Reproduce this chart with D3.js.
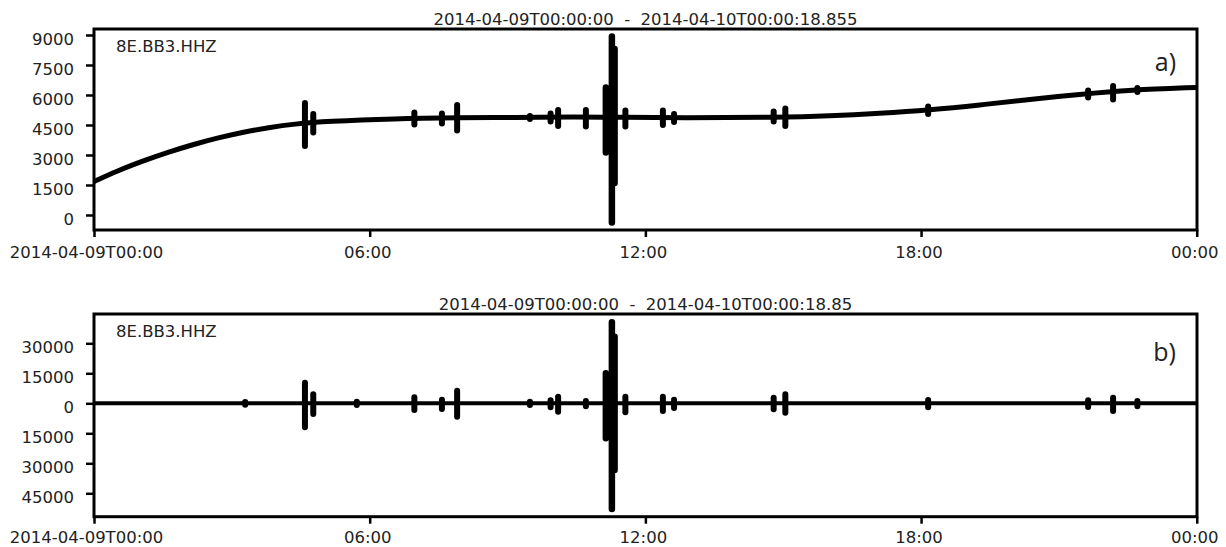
<!DOCTYPE html>
<html>
<head>
<meta charset="utf-8">
<script src="https://cdn.jsdelivr.net/npm/d3@7"></script>
<style>
  body { margin: 0; background: #fff; }
  text { font-family: "DejaVu Sans", sans-serif; fill: #222; }
</style>
</head>
<body>
<div id="plot"></div>
<script>
// Trace window
const startTime = Date.UTC(2014, 3, 9, 0, 0, 0);
const endTime = Date.UTC(2014, 3, 10, 0, 0, 18, 855);
const stationLabel = "8E.BB3.HHZ";
const titles = [
    "2014-04-09T00:00:00  -  2014-04-10T00:00:18.855",
    "2014-04-09T00:00:00  -  2014-04-10T00:00:18.85"
];
const panelTags = ["a)", "b)"];

// x ticks (hours from start) and their labels
const xTickHours = [0, 6, 12, 18, 24];
const xTickLabels = ["2014-04-09T00:00", "06:00", "12:00", "18:00", "00:00"];

// y ticks
const yTicksA = [0, 1500, 3000, 4500, 6000, 7500, 9000];
const yTicksB = [-45000, -30000, -15000, 0, 15000, 30000];

// raw trace (a): slow drift
const driftHours = [0, 0.5, 1.09, 1.6, 2.18, 2.7, 3.26, 3.8, 4.35, 5.07, 6.53, 8.0, 9.14,
    10.5, 11.5, 12.75, 14.93, 16.0, 17.1, 18.19, 19.28, 20.37, 21.45, 22.54, 24.0];
const driftValues = [1670, 2200, 2720, 3130, 3540, 3860, 4150, 4370, 4550, 4690, 4820, 4860, 4880,
    4900, 4890, 4860, 4880, 4950, 5080, 5250, 5500, 5780, 6030, 6250, 6380];

// filtered trace (b) sits on zero
const baseHoursB = [0, 24.0];
const baseValuesB = [0, 0];

// events: time (hours) and min/max excursions in each panel (null = not visible)
const eventHours = [3.29, 4.591, 4.772, 5.72, 6.972, 7.572, 7.903, 9.487, 9.937, 10.101, 10.705,
    11.140, 11.271, 11.330, 11.565, 12.381, 12.624, 14.792, 15.046, 18.154, 21.636, 22.179, 22.708];
const eventMaxA = [null, 5600, 5050, null, 5130, 5080, 5500, 4950, 5080, 5250, 5250,
    6370, 8920, 8300, 5220, 5220, 5050, 5170, 5330, 5420, 6220, 6450, 6350];
const eventMinA = [null, 3450, 4120, null, 4530, 4580, 4220, 4800, 4670, 4450, 4420,
    3120, -380, 1600, 4420, 4500, 4650, 4670, 4450, 5050, 5880, 5780, 6150];
const eventMaxB = [700, 10300, 4500, 800, 3000, 1800, 6300, 800, 1500, 3300, 1200,
    15000, 40500, 33300, 3300, 3300, 1800, 2800, 4500, 1700, 1500, 2800, 1200];
const eventMinB = [-700, -12000, -5350, -800, -3350, -2800, -6700, -900, -2000, -4200, -1500,
    -17500, -52800, -33300, -4500, -3800, -2300, -3000, -4700, -2000, -1800, -3800, -1500];

const atHour = h => new Date(startTime + h * 3600e3);

const svg = d3.select("#plot")
    .append("svg")
    .attr("width", 1226)
    .attr("height", 547);

const left = 94, right = 1197;

const x = d3.scaleUtc()
    .domain([new Date(startTime), new Date(endTime)])
    .range([left, right]);

const panels = [
    {
        top: 29, bottom: 230, domain: [-750, 9300], ticks: yTicksA,
        lineHours: driftHours, lineValues: driftValues,
        evMax: eventMaxA, evMin: eventMinA, lineWidth: 5,
        tagY: 71, xLabelPad: 9
    },
    {
        top: 314, bottom: 516.7, domain: [-56700, 44650], ticks: yTicksB,
        lineHours: baseHoursB, lineValues: baseValuesB,
        evMax: eventMaxB, evMin: eventMinB, lineWidth: 4,
        tagY: 361, xLabelPad: 8
    }
];

panels.forEach((p, i) => {
    const y = d3.scaleLinear().domain(p.domain).range([p.bottom, p.top]);
    const g = svg.append("g");

    // y axis
    const yAxis = g.append("g")
        .attr("transform", `translate(${left},0)`)
        .call(d3.axisLeft(y).tickValues(p.ticks).tickSize(8).tickPadding(12)
            .tickFormat(d => String(Math.abs(d))));
    yAxis.select(".domain").remove();
    yAxis.selectAll("line").attr("stroke", "#000").attr("stroke-width", 2.5);
    yAxis.selectAll("text").attr("font-size", "16.5px").attr("dy", "9px")
        .attr("font-family", "DejaVu Sans").attr("fill", "#222");

    // x axis
    const xAxis = g.append("g")
        .attr("transform", `translate(0,${p.bottom})`)
        .call(d3.axisBottom(x).tickValues(xTickHours.map(atHour)).tickSize(7)
            .tickPadding(p.xLabelPad).tickFormat((d, k) => xTickLabels[k]));
    xAxis.select(".domain").remove();
    xAxis.selectAll("line").attr("stroke", "#000").attr("stroke-width", 2.5);
    xAxis.selectAll("text").attr("font-size", "16.5px")
        .attr("font-family", "DejaVu Sans").attr("fill", "#222")
        .attr("dx", (d, k) => k === 0 ? -8 : -2.5);

    // trace
    const line = d3.line()
        .x((d, k) => x(atHour(p.lineHours[k])))
        .y(d => y(d))
        .curve(d3.curveBasis);
    g.append("path")
        .attr("d", line(p.lineValues))
        .attr("fill", "none")
        .attr("stroke", "#000")
        .attr("stroke-width", p.lineWidth)
        .attr("stroke-linejoin", "round");

    const events = eventHours
        .map((h, k) => ({ h, max: p.evMax[k], min: p.evMin[k] }))
        .filter(d => d.max !== null);
    const span = p.domain[1] - p.domain[0];

    g.selectAll("line.event")
        .data(events)
        .join("line")
        .attr("class", "event")
        .attr("x1", d => x(atHour(d.h)))
        .attr("x2", d => x(atHour(d.h)))
        .attr("y1", d => y(d.max))
        .attr("y2", d => y(d.min))
        .attr("stroke", "#000")
        .attr("stroke-width", d => (d.max - d.min) > span * 0.3 ? 6.5 : 6)
        .attr("stroke-linecap", "round");

    // frame
    g.append("rect")
        .attr("x", left).attr("y", p.top)
        .attr("width", right - left).attr("height", p.bottom - p.top)
        .attr("fill", "none").attr("stroke", "#000").attr("stroke-width", 3);

    // texts
    g.append("text")
        .attr("x", (left + right) / 2).attr("y", p.top - 4)
        .attr("text-anchor", "middle")
        .attr("font-size", "16.5px")
        .style("white-space", "pre")
        .text(titles[i]);

    g.append("text")
        .attr("x", 116).attr("y", p.top + 22.5)
        .attr("font-size", "16.5px")
        .text(stationLabel);

    g.append("text")
        .attr("x", 1176).attr("y", p.tagY)
        .attr("text-anchor", "end")
        .attr("font-size", "25px")
        .style("font-family", "'Open Sans', sans-serif")
        .text(panelTags[i]);
});
</script>
</body>
</html>
